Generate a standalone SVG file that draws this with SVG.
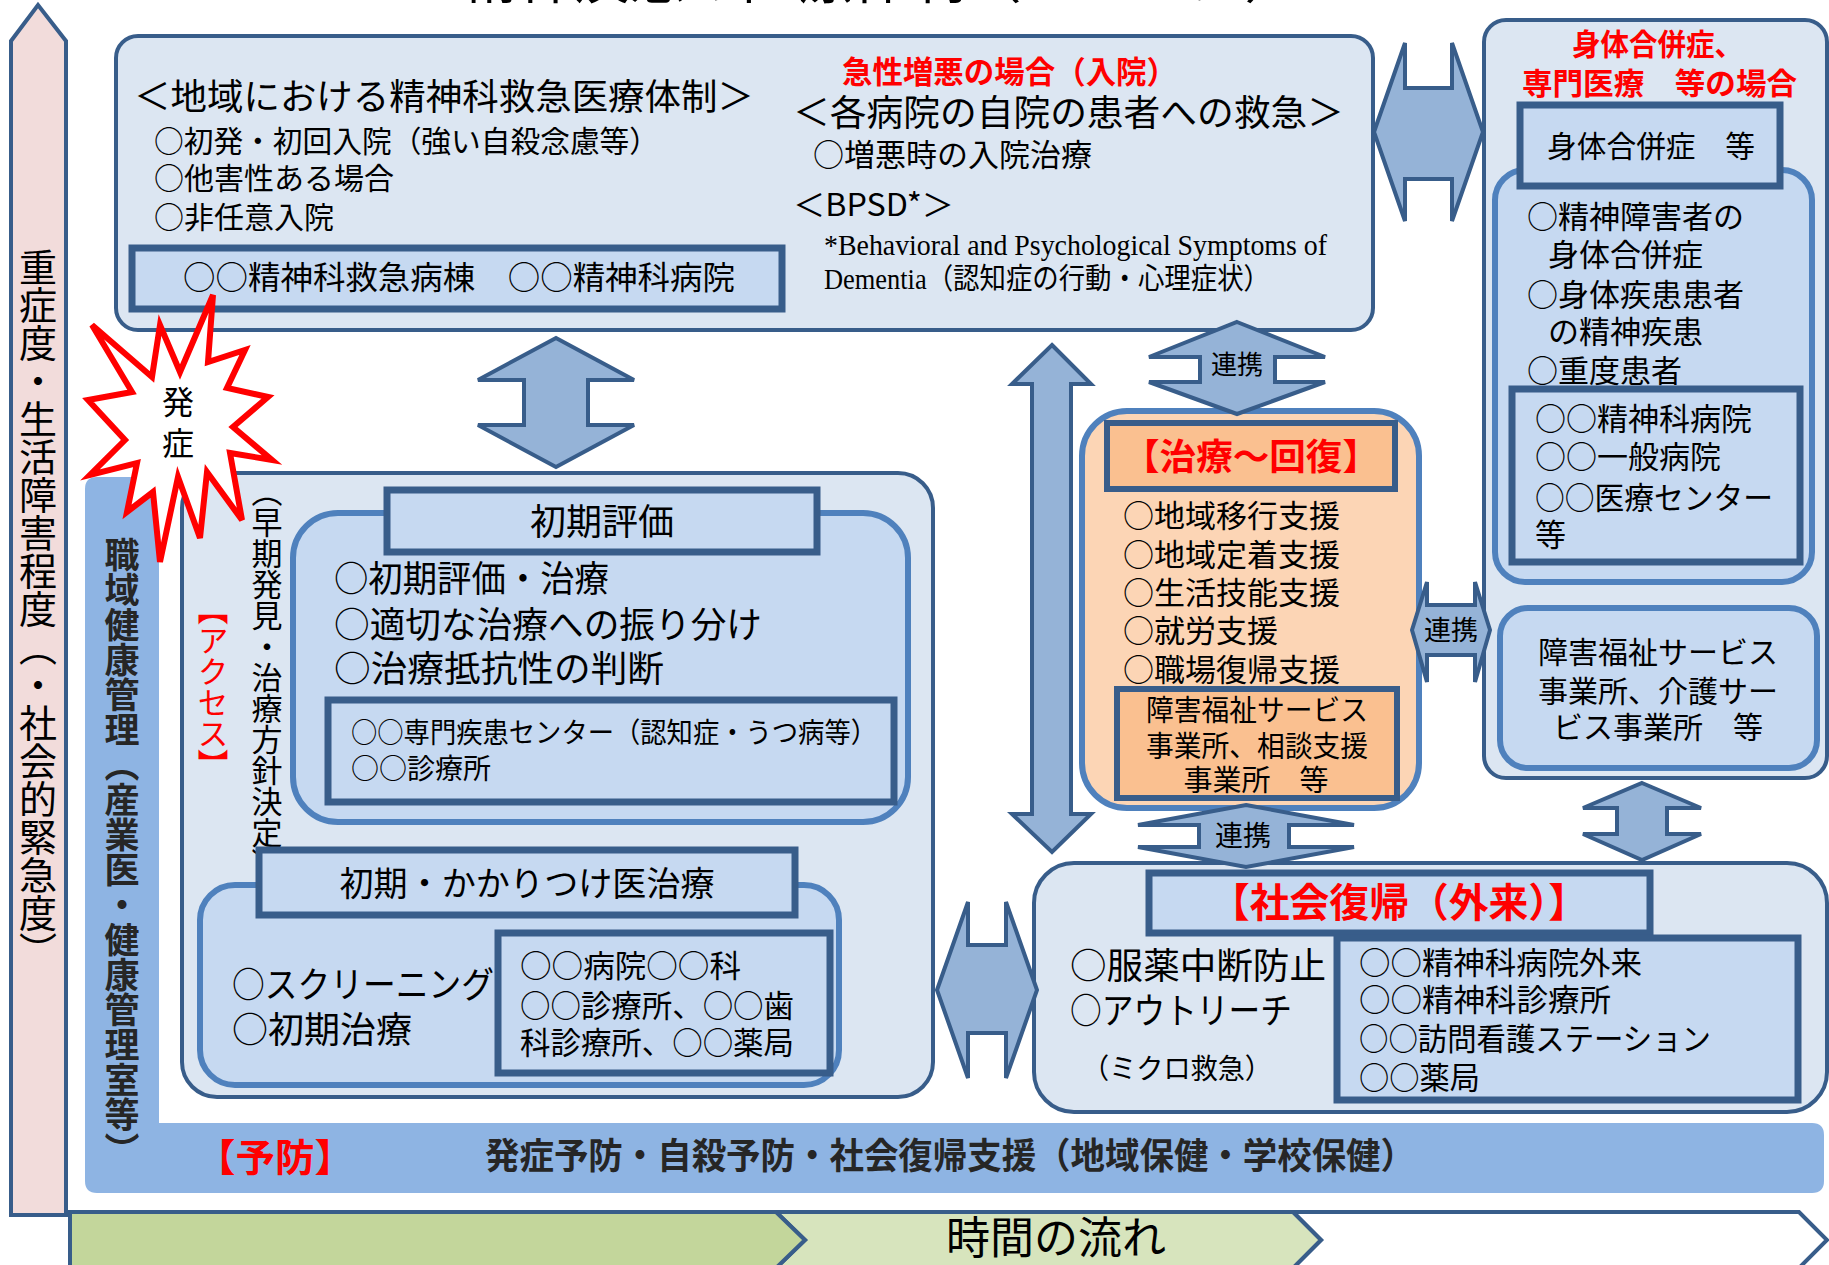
<svg xmlns="http://www.w3.org/2000/svg" width="1829" height="1265" viewBox="0 0 1829 1265">
<style>
.t{font-family:"Noto Sans CJK JP","Noto Sans CJK SC",sans-serif;fill:#000}
.s{font-family:"Liberation Serif","Noto Sans CJK JP",serif;fill:#000}
.b{font-weight:700}
.red{fill:#FF0000}
.dk{fill:#262626}
.mid{text-anchor:middle}
.vt{writing-mode:vertical-rl}
.bl{fill:#DCE6F2;stroke:#385D8A;stroke-width:4}
.bm{fill:#C6D9F1;stroke:#4F81BD;stroke-width:6}
.bd{fill:#C6D9F1;stroke:#385D8A;stroke-width:7}
.pm{fill:#FCD5B5;stroke:#4F81BD;stroke-width:6}
.pd{fill:#FAC090;stroke:#385D8A;stroke-width:6}
.ar{fill:#95B3D7;stroke:#385D8A;stroke-width:4;stroke-linejoin:miter}
.tm{stroke:#385D8A;stroke-width:4;stroke-linejoin:miter}
</style>
<rect width="1829" height="1265" fill="#FFFFFF"/>

<text class="t mid" x="881" y="-2" font-size="56">精神疾患の医療体制（イメージ）</text>

<g id="severity-axis">
<polygon points="11,41 38,5 66,41 66,1215 11,1215" fill="#F2DCDB" stroke="#385D8A" stroke-width="4"/>
<text class="t vt" x="38" y="248" font-size="38">重症度・生活障害程度（・社会的緊急度）</text>
</g>

<g id="occupational-health">
<path d="M85,489 Q85,477 97,477 L147,477 Q159,477 159,489 L159,1123 L1812,1123 Q1824,1123 1824,1135 L1824,1181 Q1824,1193 1812,1193 L97,1193 Q85,1193 85,1181 Z" fill="#8EB4E3"/>
<text class="t b dk vt" x="122" y="537" font-size="35">職域健康管理（産業医・健康管理室等）</text>
<text class="t b red" x="196" y="1171" font-size="38" textLength="158" lengthAdjust="spacingAndGlyphs">【予防】</text>
<text class="t b dk" x="485" y="1169" font-size="36" textLength="930" lengthAdjust="spacingAndGlyphs">発症予防・自殺予防・社会復帰支援（地域保健・学校保健）</text>
</g>

<g id="emergency-box">
<rect class="bl" x="116" y="36" width="1257" height="294" rx="22"/>
<text class="t" x="134" y="110" font-size="36" textLength="620" lengthAdjust="spacingAndGlyphs">＜地域における精神科救急医療体制＞</text>
<text class="t" x="154" y="152" font-size="30" textLength="505" lengthAdjust="spacingAndGlyphs">○初発・初回入院（強い自殺念慮等）</text>
<text class="t" x="154" y="189" font-size="30">○他害性ある場合</text>
<text class="t" x="154" y="228" font-size="30">○非任意入院</text>
<rect class="bd" x="132" y="248" width="650" height="61"/>
<text class="t" x="183" y="289" font-size="32" textLength="552" lengthAdjust="spacingAndGlyphs">○○精神科救急病棟　○○精神科病院</text>
<text class="t b red" x="842" y="83" font-size="31" textLength="335" lengthAdjust="spacingAndGlyphs">急性増悪の場合（入院）</text>
<text class="t" x="793" y="126" font-size="36" textLength="551" lengthAdjust="spacingAndGlyphs">＜各病院の自院の患者への救急＞</text>
<text class="t" x="813" y="166" font-size="31">○増悪時の入院治療</text>
<text class="t" x="793" y="216" font-size="31" textLength="161" lengthAdjust="spacingAndGlyphs">＜BPSD*＞</text>
<text class="s" x="824" y="255" font-size="29" textLength="503" lengthAdjust="spacingAndGlyphs">*Behavioral and Psychological Symptoms of</text>
<text class="s" x="824" y="289" font-size="29" textLength="446" lengthAdjust="spacingAndGlyphs">Dementia（認知症の行動・心理症状）</text>
</g>

<g id="physical-comorbidity">
<rect class="bl" x="1484" y="20" width="343" height="758" rx="22"/>
<text class="t b red" x="1572" y="55" font-size="30" textLength="171" lengthAdjust="spacingAndGlyphs">身体合併症、</text>
<text class="t b red" x="1522" y="94" font-size="30" textLength="275" lengthAdjust="spacingAndGlyphs">専門医療　等の場合</text>
<rect class="bm" x="1495" y="170" width="317" height="412" rx="30"/>
<rect class="bd" x="1520" y="105" width="260" height="81"/>
<text class="t" x="1547" y="157" font-size="30" textLength="208" lengthAdjust="spacingAndGlyphs">身体合併症　等</text>
<text class="t" x="1527" y="228" font-size="31">○精神障害者の</text>
<text class="t" x="1548" y="266" font-size="31">身体合併症</text>
<text class="t" x="1527" y="306" font-size="31">○身体疾患患者</text>
<text class="t" x="1548" y="343" font-size="31">の精神疾患</text>
<text class="t" x="1527" y="382" font-size="31">○重度患者</text>
<rect class="bd" x="1512" y="389" width="288" height="173"/>
<text class="t" x="1535" y="430" font-size="31">○○精神科病院</text>
<text class="t" x="1535" y="468" font-size="31">○○一般病院</text>
<text class="t" x="1535" y="509" font-size="31" textLength="238" lengthAdjust="spacingAndGlyphs">○○医療センター</text>
<text class="t" x="1535" y="546" font-size="31">等</text>
<rect class="bm" x="1500" y="608" width="317" height="160" rx="28" stroke-width="7"/>
<text class="t mid" x="1658" y="663" font-size="30">障害福祉サービス</text>
<text class="t mid" x="1658" y="702" font-size="30">事業所、介護サー</text>
<text class="t mid" x="1658" y="738" font-size="30">ビス事業所　等</text>
</g>

<g id="access-box">
<rect class="bl" x="182" y="473" width="751" height="624" rx="35"/>
<text class="t red vt" x="213" y="594" font-size="31">【アクセス】</text>
<text class="t vt" x="267" y="476" font-size="31">（早期発見・治療方針決定）</text>
</g>

<g id="initial-assessment">
<rect class="bm" x="293" y="513" width="615" height="309" rx="45"/>
<rect class="bd" x="387" y="490" width="430" height="62"/>
<text class="t mid" x="602" y="535" font-size="36">初期評価</text>
<text class="t" x="334" y="592" font-size="36" textLength="275" lengthAdjust="spacingAndGlyphs">○初期評価・治療</text>
<text class="t" x="334" y="638" font-size="36" textLength="428" lengthAdjust="spacingAndGlyphs">○適切な治療への振り分け</text>
<text class="t" x="334" y="682" font-size="36" textLength="330" lengthAdjust="spacingAndGlyphs">○治療抵抗性の判断</text>
<rect class="bd" x="328" y="700" width="566" height="102" stroke-width="5"/>
<text class="t" x="351" y="743" font-size="28" textLength="526" lengthAdjust="spacingAndGlyphs">○○専門疾患センター（認知症・うつ病等）</text>
<text class="t" x="351" y="779" font-size="28">○○診療所</text>
</g>

<g id="primary-care">
<rect class="bm" x="200" y="885" width="639" height="200" rx="35"/>
<rect class="bd" x="259" y="850" width="536" height="65"/>
<text class="t mid" x="527" y="896" font-size="34" textLength="375" lengthAdjust="spacingAndGlyphs">初期・かかりつけ医治療</text>
<text class="t" x="232" y="998" font-size="36" textLength="262" lengthAdjust="spacingAndGlyphs">○スクリーニング</text>
<text class="t" x="232" y="1043" font-size="36">○初期治療</text>
<rect class="bd" x="498" y="933" width="332" height="140" stroke-width="6"/>
<text class="t" x="520" y="977" font-size="31" textLength="221" lengthAdjust="spacingAndGlyphs">○○病院○○科</text>
<text class="t" x="520" y="1017" font-size="31" textLength="274" lengthAdjust="spacingAndGlyphs">○○診療所、○○歯</text>
<text class="t" x="520" y="1054" font-size="31" textLength="274" lengthAdjust="spacingAndGlyphs">科診療所、○○薬局</text>
</g>

<g id="treatment-recovery">
<rect class="pm" x="1082" y="411" width="337" height="397" rx="45"/>
<rect class="pd" x="1107" y="423" width="288" height="66" stroke-width="7"/>
<text class="t b red mid" x="1251" y="470" font-size="36" textLength="256" lengthAdjust="spacingAndGlyphs">【治療～回復】</text>
<text class="t" x="1123" y="527" font-size="31">○地域移行支援</text>
<text class="t" x="1123" y="566" font-size="31">○地域定着支援</text>
<text class="t" x="1123" y="604" font-size="31">○生活技能支援</text>
<text class="t" x="1123" y="642" font-size="31">○就労支援</text>
<text class="t" x="1123" y="681" font-size="31">○職場復帰支援</text>
<rect class="pd" x="1117" y="689" width="280" height="109" stroke-width="5"/>
<text class="t mid" x="1257" y="721" font-size="29" textLength="222" lengthAdjust="spacingAndGlyphs">障害福祉サービス</text>
<text class="t mid" x="1257" y="757" font-size="29" textLength="222" lengthAdjust="spacingAndGlyphs">事業所、相談支援</text>
<text class="t mid" x="1256" y="791" font-size="29">事業所　等</text>
</g>

<g id="social-return">
<rect class="bl" x="1034" y="863" width="793" height="249" rx="40" stroke="#4F81BD" stroke-width="6"/>
<rect class="bd" x="1149" y="873" width="501" height="60" stroke-width="6"/>
<text class="t b red mid" x="1399" y="917" font-size="40" textLength="378" lengthAdjust="spacingAndGlyphs">【社会復帰（外来）】</text>
<text class="t" x="1070" y="979" font-size="36" textLength="256" lengthAdjust="spacingAndGlyphs">○服薬中断防止</text>
<text class="t" x="1070" y="1024" font-size="36" textLength="222" lengthAdjust="spacingAndGlyphs">○アウトリーチ</text>
<text class="t" x="1082" y="1079" font-size="28" textLength="190" lengthAdjust="spacingAndGlyphs">（ミクロ救急）</text>
<rect class="bd" x="1337" y="938" width="461" height="162" stroke-width="6"/>
<text class="t" x="1359" y="974" font-size="31" textLength="283" lengthAdjust="spacingAndGlyphs">○○精神科病院外来</text>
<text class="t" x="1359" y="1011" font-size="31" textLength="252" lengthAdjust="spacingAndGlyphs">○○精神科診療所</text>
<text class="t" x="1359" y="1050" font-size="31" textLength="352" lengthAdjust="spacingAndGlyphs">○○訪問看護ステーション</text>
<text class="t" x="1359" y="1089" font-size="31" textLength="121" lengthAdjust="spacingAndGlyphs">○○薬局</text>
</g>

<g id="connectors">
<polygon class="ar" points="1374,132 1405,43 1405,88 1452,88 1452,43 1483,132 1452,221 1452,179 1405,179 1405,221"/>
<polygon class="ar" points="556,338 634,380 588,380 588,425 634,425 556,467 478,425 524,425 524,380 478,380"/>
<polygon class="ar" points="1052,345 1091,384 1071,384 1071,814 1091,814 1052,852 1012,814 1032,814 1032,384 1012,384"/>
<polygon class="ar" points="1237,322 1325,357 1275,357 1275,382 1325,382 1237,414 1149,382 1200,382 1200,357 1149,357"/>
<text class="t mid" x="1237" y="374" font-size="26">連携</text>
<polygon class="ar" points="1412,630 1427,582 1427,605 1475,605 1475,582 1490,630 1475,682 1475,655 1427,655 1427,682"/>
<text class="t mid" x="1451" y="640" font-size="27">連携</text>
<polygon class="ar" points="1246,805 1354,825 1289,825 1289,847 1354,847 1246,867 1138,847 1199,847 1199,825 1138,825"/>
<text class="t mid" x="1243" y="846" font-size="28">連携</text>
<polygon class="ar" points="1642,783 1701,808 1667,808 1667,834 1701,834 1642,860 1583,834 1617,834 1617,808 1583,808"/>
<polygon class="ar" points="937,990 968,902 968,945 1006,945 1006,902 1037,990 1006,1078 1006,1033 968,1033 968,1078"/>
</g>

<g id="onset">
<polygon points="92,325 152,377 160,325 180,372 213,295 208,362 245,350 227,388 268,397 233,427 272,460 230,453 242,520 207,472 200,538 178,477 160,562 153,492 127,512 137,463 90,475 125,440 88,400 132,392" fill="#FFFFFF" stroke="#FF0000" stroke-width="6" stroke-linejoin="miter"/>
<text class="t mid" x="178" y="414" font-size="32">発</text>
<text class="t mid" x="178" y="455" font-size="32">症</text>
</g>

<g id="time-flow">
<polygon class="tm" points="1293,1212 1799,1212 1827,1240 1799,1268 1293,1268 1321,1240" fill="#FFFFFF"/>
<polygon class="tm" points="776,1212 1293,1212 1321,1240 1293,1268 776,1268 805,1240" fill="#D7E4BD"/>
<polygon class="tm" points="70,1212 776,1212 805,1240 776,1268 70,1268" fill="#C3D69B"/>
<text class="t mid" x="1056" y="1254" font-size="44">時間の流れ</text>
</g>
</svg>
